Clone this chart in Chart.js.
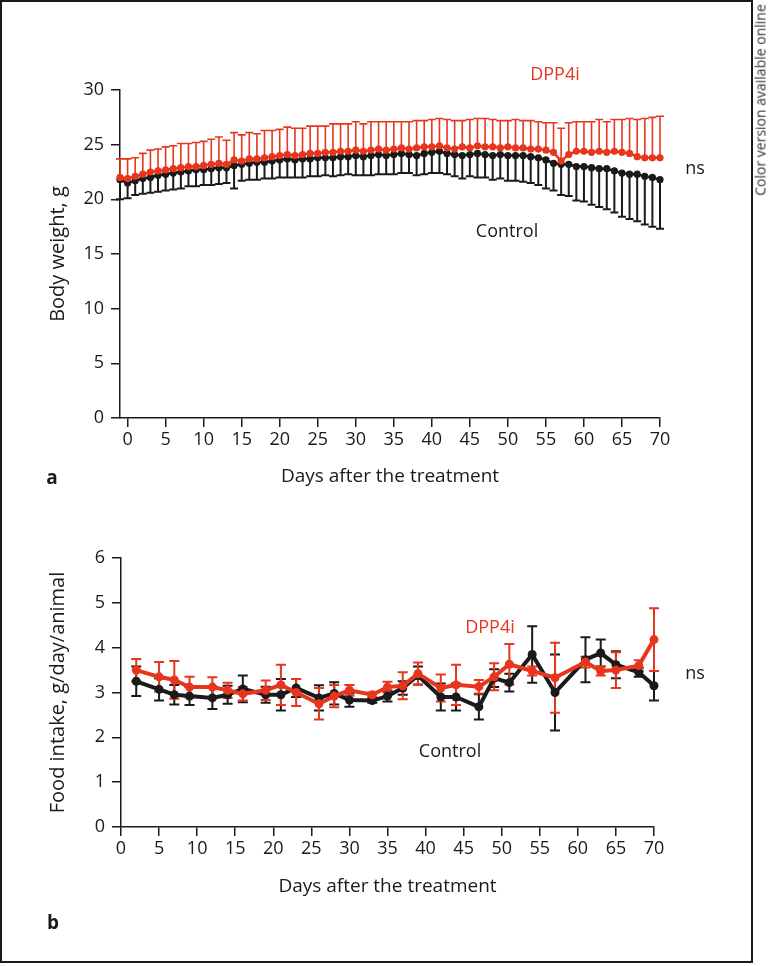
<!DOCTYPE html>
<html><head><meta charset="utf-8">
<script src="https://cdn.jsdelivr.net/npm/chart.js@4/dist/chart.umd.min.js"></script>
<style>
html,body{margin:0;padding:0;background:#fff;width:768px;height:966px;overflow:hidden;font-family:"Open Sans",sans-serif;}
#frame{position:absolute;left:0;top:0;width:749px;height:959px;border:2px solid #1a1a1a;}
canvas{position:absolute;left:0;}
#ca{top:0;}
#cb{top:500px;}
.lbl{position:absolute;transform:translate(-50%,-50%);font-size:18px;white-space:nowrap;color:#1a1a1a;line-height:1;}
.red{color:#e8351d;}
.pan{font-weight:bold;font-size:19px;}
#side{position:absolute;left:760px;top:100px;transform:translate(-50%,-50%) rotate(-90deg);font-size:14px;color:#333;white-space:nowrap;}
</style>
</head><body>
<div id="frame"></div>
<canvas id="ca" width="751" height="500"></canvas>
<canvas id="cb" width="751" height="410"></canvas>
<div class="lbl red" style="left:555px;top:73px">DPP4i</div>
<div class="lbl" style="left:695px;top:167px">ns</div>
<div class="lbl" style="left:507px;top:230px">Control</div>
<div class="lbl pan" style="left:52px;top:477px">a</div>
<div class="lbl red" style="left:490px;top:626px">DPP4i</div>
<div class="lbl" style="left:450px;top:750px">Control</div>
<div class="lbl" style="left:695px;top:672px">ns</div>
<div class="lbl pan" style="left:53px;top:922px">b</div>
<div id="side">Color version available online</div>
<script>
// ---------- Panel a: body weight ----------
const daysA = [-1,0,1,2,3,4,5,6,7,8,9,10,11,12,13,14,15,16,17,18,19,20,21,22,23,24,25,26,27,28,29,30,31,32,33,34,35,36,37,38,39,40,41,42,43,44,45,46,47,48,49,50,51,52,53,54,55,56,57,58,59,60,61,62,63,64,65,66,67,68,69,70];
const dppWeight = [22.0,21.9,22.1,22.3,22.5,22.6,22.7,22.8,22.9,23.0,23.0,23.1,23.2,23.3,23.2,23.6,23.5,23.7,23.7,23.8,23.9,24.0,24.1,24.0,24.1,24.2,24.2,24.3,24.3,24.4,24.4,24.5,24.4,24.5,24.6,24.5,24.6,24.7,24.6,24.7,24.8,24.8,24.9,24.7,24.6,24.8,24.7,24.9,24.8,24.8,24.7,24.8,24.7,24.7,24.6,24.6,24.5,24.3,23.5,24.1,24.4,24.4,24.3,24.4,24.3,24.4,24.3,24.2,23.9,23.8,23.8,23.8];
const dppWeightErr = [1.7,1.8,1.7,1.9,2.0,2.0,2.1,2.1,2.2,2.1,2.2,2.2,2.3,2.4,2.2,2.5,2.4,2.4,2.3,2.5,2.4,2.4,2.5,2.5,2.4,2.5,2.5,2.4,2.6,2.5,2.5,2.6,2.5,2.6,2.5,2.6,2.5,2.4,2.5,2.5,2.4,2.5,2.5,2.6,2.6,2.4,2.6,2.5,2.6,2.5,2.5,2.4,2.6,2.5,2.6,2.5,2.5,2.7,3.0,2.9,2.7,2.7,2.8,2.9,2.8,2.9,3.0,3.2,3.4,3.6,3.7,3.8];
const ctlWeight = [21.8,21.5,21.7,21.9,22.0,22.2,22.3,22.4,22.5,22.6,22.7,22.7,22.8,22.9,22.9,23.1,23.2,23.3,23.4,23.4,23.5,23.6,23.7,23.6,23.7,23.7,23.8,23.8,23.8,23.9,23.9,24.0,23.9,24.0,24.1,24.0,24.1,24.2,24.1,24.0,24.2,24.3,24.4,24.2,24.1,24.0,24.1,24.2,24.1,24.0,24.1,24.0,24.0,24.0,23.9,23.8,23.6,23.3,23.2,23.2,23.0,23.0,22.9,22.8,22.8,22.6,22.4,22.3,22.3,22.1,22.0,21.8];
const ctlWeightErr = [1.8,1.4,1.3,1.4,1.4,1.5,1.5,1.5,1.5,1.4,1.5,1.4,1.5,1.5,1.4,2.1,1.5,1.5,1.6,1.5,1.6,1.6,1.7,1.6,1.7,1.6,1.7,1.6,1.7,1.7,1.6,1.8,1.7,1.8,1.8,1.7,1.8,1.8,1.7,1.8,1.9,1.9,2.0,1.9,2.0,2.1,2.0,2.2,2.1,2.2,2.2,2.3,2.3,2.4,2.4,2.5,2.6,2.5,2.8,2.9,3.1,3.2,3.4,3.5,3.7,3.8,4.0,4.1,4.3,4.4,4.5,4.5];
const yTicksA = [0,5,10,15,20,25,30];
const xTicks = [0,5,10,15,20,25,30,35,40,45,50,55,60,65,70];

// ---------- Panel b: food intake ----------
const daysB = [2,5,7,9,12,14,16,19,21,23,26,28,30,33,35,37,39,42,44,47,49,51,54,57,61,63,65,68,70];
const dppFood = [3.50,3.35,3.28,3.12,3.12,3.05,2.97,3.05,3.17,3.00,2.75,2.92,3.05,2.95,3.12,3.15,3.42,3.10,3.17,3.13,3.35,3.63,3.48,3.33,3.68,3.48,3.50,3.60,4.18];
const dppFoodErr = [0.25,0.33,0.42,0.23,0.22,0.17,0.15,0.22,0.45,0.30,0.35,0.25,0.12,0.05,0.12,0.30,0.25,0.30,0.45,0.15,0.30,0.45,0.10,0.78,0.12,0.10,0.40,0.12,0.70];
const ctlFood = [3.25,3.07,2.95,2.92,2.88,2.95,3.08,2.95,2.95,3.10,2.88,2.98,2.83,2.82,2.92,3.10,3.38,2.90,2.90,2.68,3.32,3.22,3.85,3.00,3.73,3.88,3.62,3.45,3.15];
const ctlFoodErr = [0.33,0.25,0.22,0.20,0.25,0.20,0.30,0.18,0.35,0.20,0.28,0.25,0.15,0.05,0.12,0.15,0.20,0.30,0.30,0.28,0.20,0.20,0.63,0.85,0.50,0.30,0.30,0.10,0.33];
const yTicksB = [0,1,2,3,4,5,6];

const RED = '#e8351d', BLK = '#1a1a1a';
const FONT = 'Open Sans';

const errorBars = {
  id: 'errorBars',
  beforeDatasetsDraw(chart) {
    const ctx = chart.ctx, xs = chart.scales.x, ys = chart.scales.y;
    const order = chart.data.datasets.map((d, i) => i).sort((a, b) => chart.data.datasets[b].order - chart.data.datasets[a].order);
    order.forEach(i => {
      const ds = chart.data.datasets[i];
      ctx.save();
      ctx.strokeStyle = ds.borderColor;
      ctx.lineWidth = ds.errWidth;
      ds.data.forEach((p, j) => {
        const px = xs.getPixelForValue(p.x), py = ys.getPixelForValue(p.y);
        [[ds.errUp, 1], [ds.errDown, -1]].forEach(([arr, s]) => {
          if (!arr) return;
          const ey = ys.getPixelForValue(p.y + s * arr[j]);
          ctx.beginPath();
          ctx.moveTo(px, py); ctx.lineTo(px, ey);
          ctx.moveTo(px - ds.capHalf, ey); ctx.lineTo(px + ds.capHalf, ey);
          ctx.stroke();
        });
      });
      ctx.restore();
    });
  }
};

function pts(xs, ys) { return xs.map((x, i) => ({x: x, y: ys[i]})); }

function makeChart(id, cfg) {
  const axisCommon = {
    grid: {drawOnChartArea: false, drawTicks: true, tickLength: 9, color: BLK, lineWidth: 1.5},
    border: {display: true, color: BLK, width: 1.5},
    ticks: {font: {family: FONT, size: 18}, color: BLK, autoSkip: false, maxRotation: 0}
  };
  return new Chart(document.getElementById(id), {
    type: 'line',
    data: {datasets: cfg.datasets},
    options: {
      responsive: false, animation: false, devicePixelRatio: 1,
      layout: {padding: {left: 0, top: cfg.padTop, right: cfg.padRight, bottom: 0}},
      plugins: {legend: {display: false}, tooltip: {enabled: false}},
      scales: {
        x: Object.assign({}, axisCommon, {
          type: 'linear', min: cfg.xMin, max: 70,
          afterBuildTicks: s => { s.ticks = xTicks.map(v => ({value: v})); },
          afterFit: s => { s.height = cfg.xHeight; },
          ticks: Object.assign({}, axisCommon.ticks, {padding: 2}),
          title: {display: true, text: 'Days after the treatment', color: BLK, font: {family: FONT, size: 19}, padding: {top: 0, bottom: 12}}
        }),
        y: Object.assign({}, axisCommon, {
          type: 'linear', min: 0, max: cfg.yMax,
          afterBuildTicks: s => { s.ticks = cfg.yTicks.map(v => ({value: v})); },
          afterFit: s => { s.width = cfg.yWidth; },
          ticks: Object.assign({}, axisCommon.ticks, {padding: 7}),
          title: {display: true, text: cfg.yTitle, color: BLK, font: {family: FONT, size: 20}, padding: {top: 46, bottom: 0}}
        })
      }
    },
    plugins: [errorBars]
  });
}

makeChart('ca', {
  padTop: 90, padRight: 91, xMin: -1, xHeight: 82, yWidth: 120, yMax: 30, yTicks: yTicksA,
  yTitle: 'Body weight, g',
  datasets: [
    {label: 'DPP4i', data: pts(daysA, dppWeight), borderColor: RED, backgroundColor: RED, borderWidth: 2.5,
     pointRadius: 3.6, pointBorderWidth: 0, tension: 0, clip: false, order: 0,
     errUp: dppWeightErr, errDown: null, errWidth: 1.6, capHalf: 4},
    {label: 'Control', data: pts(daysA, ctlWeight), borderColor: BLK, backgroundColor: BLK, borderWidth: 2.5,
     pointRadius: 3.6, pointBorderWidth: 0, tension: 0, clip: false, order: 1,
     errUp: null, errDown: ctlWeightErr, errWidth: 2, capHalf: 4}
  ]
});

makeChart('cb', {
  padTop: 58, padRight: 97, xMin: 0, xHeight: 83, yWidth: 121, yMax: 6, yTicks: yTicksB,
  yTitle: 'Food intake, g/day/animal',
  datasets: [
    {label: 'DPP4i', data: pts(daysB, dppFood), borderColor: RED, backgroundColor: RED, borderWidth: 4,
     pointRadius: 4.5, pointBorderWidth: 0, tension: 0, clip: false, order: 0,
     errUp: dppFoodErr, errDown: dppFoodErr, errWidth: 2, capHalf: 5},
    {label: 'Control', data: pts(daysB, ctlFood), borderColor: BLK, backgroundColor: BLK, borderWidth: 4,
     pointRadius: 4.5, pointBorderWidth: 0, tension: 0, clip: false, order: 1,
     errUp: ctlFoodErr, errDown: ctlFoodErr, errWidth: 2, capHalf: 5}
  ]
});
</script>
</body></html>
